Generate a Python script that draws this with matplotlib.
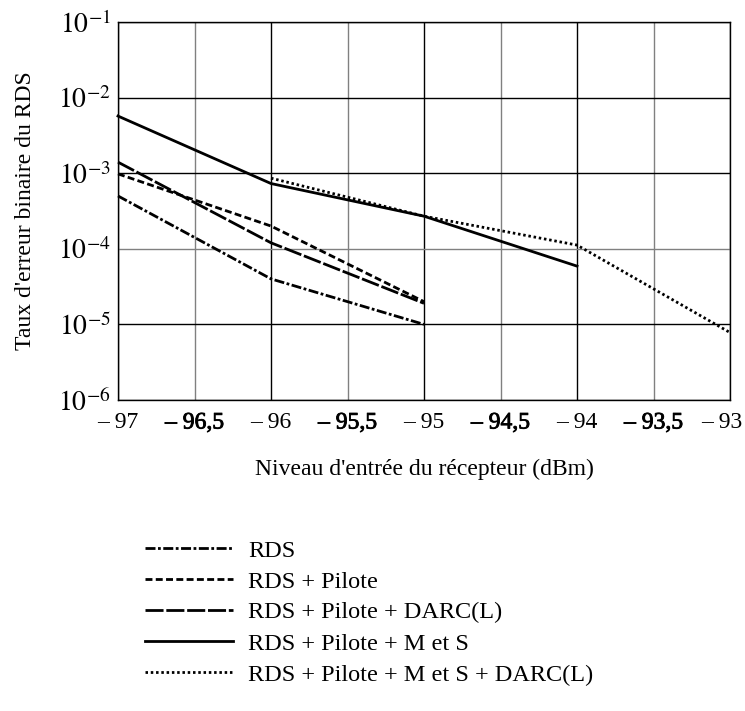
import matplotlib
matplotlib.use("Agg")
import matplotlib.pyplot as plt
import matplotlib.patheffects as pe
from matplotlib.transforms import ScaledTranslation

plt.rcParams['font.family'] = ['Liberation Serif', 'DejaVu Serif']
plt.rcParams['mathtext.fontset'] = 'stix'

# Receiver input level (dBm) and RDS bit error rate per configuration
x_rds = [-97, -96, -95]
y_rds = [5.0e-4, 4.0e-5, 1.0e-5]

x_pilote = [-97, -96, -95]
y_pilote = [9.8e-4, 2.0e-4, 2.0e-5]

x_darc = [-97, -96, -95]
y_darc = [1.4e-3, 1.2e-4, 1.9e-5]

x_ms = [-97, -96, -95, -94]
y_ms = [5.7e-3, 7.3e-4, 2.7e-4, 5.9e-5]

x_ms_darc = [-96, -95, -94, -93]
y_ms_darc = [8.6e-4, 2.7e-4, 1.12e-4, 7.8e-6]

labels = ["RDS", "RDS + Pilote", "RDS + Pilote + DARC(L)",
          "RDS + Pilote + M et S", "RDS + Pilote + M et S + DARC(L)"]

x_ticks = [-97, -96.5, -96, -95.5, -95, -94.5, -94, -93.5, -93]
x_ticklabels = ["– 97", "– 96,5", "– 96", "– 95,5", "– 95", "– 94,5", "– 94", "– 93,5", "– 93"]
y_ticks = [1e-6, 1e-5, 1e-4, 1e-3, 1e-2, 1e-1]
y_ticklabels = [r"$10^{-6}$", r"$10^{-5}$", r"$10^{-4}$", r"$10^{-3}$", r"$10^{-2}$", r"$10^{-1}$"]

fig = plt.figure(figsize=(7.45, 7.11), dpi=100)
ax = fig.add_axes([118/745, 1-400/711, (730-118)/745, (400-22)/711])

ax.set_yscale('log')
ax.set_xlim(-97, -93)
ax.set_ylim(1e-6, 1e-1)

# grid: integer levels black, half-steps grey
for xv in x_ticks:
    c = 'black' if float(xv).is_integer() else '#808080'
    ax.axvline(xv, color=c, lw=1.0, zorder=1)
for yv in y_ticks:
    c = '#808080' if yv == 1e-4 else 'black'
    ax.axhline(yv, color=c, lw=1.0, zorder=1)

styles = [
    dict(ls=(0, (3.6, 0.9, 1.0, 0.9)), lw=2.0),
    dict(ls=(0, (2.5, 1.2)), lw=2.0),
    dict(ls=(0, (6.5, 1.0)), lw=2.0),
    dict(ls='-', lw=2.0),
    dict(ls=(0, (0.9, 1.0)), lw=2.0),
]
series = [(x_rds, y_rds), (x_pilote, y_pilote), (x_darc, y_darc),
          (x_ms, y_ms), (x_ms_darc, y_ms_darc)]
handles = []
for (xs, ys), st, lab in zip(series, styles, labels):
    h, = ax.plot(xs, ys, color='black', linestyle=st['ls'], lw=st['lw'],
                 label=lab, zorder=3, clip_on=False)
    handles.append(h)

ax.set_xticks(x_ticks)
ax.set_xticklabels(x_ticklabels, fontsize=17)
ax.set_yticks(y_ticks)
ax.set_yticklabels(y_ticklabels, fontsize=20)
ax.minorticks_off()
ax.tick_params(length=0)
ax.tick_params(axis='x', pad=9)
ax.tick_params(axis='y', pad=5)
for sp in ax.spines.values():
    sp.set_color('black')
    sp.set_linewidth(1.0)

# half-step labels are set slightly heavier
for xv, lbl in zip(x_ticks, ax.get_xticklabels()):
    if not float(xv).is_integer():
        lbl.set_path_effects([pe.withStroke(linewidth=0.6, foreground='black')])

# keep the last x label inside the figure
last = ax.get_xticklabels()[-1]
last.set_transform(last.get_transform() + ScaledTranslation(-8/100, 0, fig.dpi_scale_trans))

ax.set_xlabel("Niveau d'entrée du récepteur (dBm)", fontsize=17, labelpad=18)
ax.set_ylabel("Taux d'erreur binaire du RDS", fontsize=17, labelpad=16)

fig.legend(handles=handles, labels=labels, loc='upper left',
           bbox_to_anchor=(145/745, 1-539.5/711), frameon=False,
           fontsize=17.5, handlelength=3.6, handletextpad=0.65,
           labelspacing=0.37, borderpad=0, borderaxespad=0)

fig.savefig("out.png", dpi=100)
